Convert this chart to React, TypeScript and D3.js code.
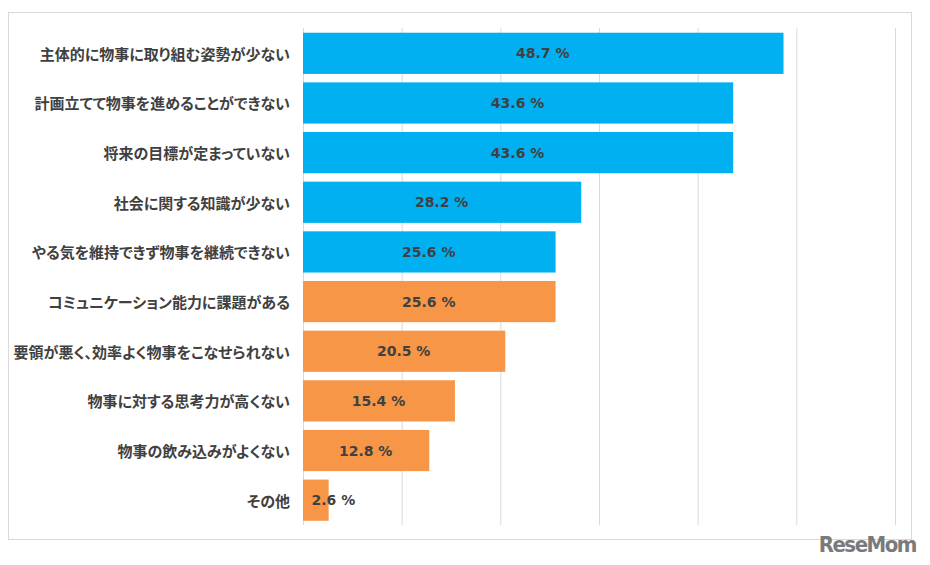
import React from "react";
import * as d3 from "d3";

const categories = [
  "主体的に物事に取り組む姿勢が少ない",
  "計画立てて物事を進めることができない",
  "将来の目標が定まっていない",
  "社会に関する知識が少ない",
  "やる気を維持できず物事を継続できない",
  "コミュニケーション能力に課題がある",
  "要領が悪く、効率よく物事をこなせられない",
  "物事に対する思考力が高くない",
  "物事の飲み込みがよくない",
  "その他",
];
const values = [48.7, 43.6, 43.6, 28.2, 25.6, 25.6, 20.5, 15.4, 12.8, 2.6];
const groups = ["top", "top", "top", "top", "top", "low", "low", "low", "low", "low"];
const xTicks = [0, 10, 20, 30, 40, 50, 60];

const W = 930;
const H = 565;
const colors: Record<string, string> = { top: "#00B0F0", low: "#F79646" };

export default function App() {
  const x = d3.scaleLinear().domain([0, 60]).range([303.5, 895.5]);
  const y = d3
    .scaleBand<string>()
    .domain(categories)
    .range([28.5, 525])
    .paddingInner(0.17)
    .paddingOuter(0.085);

  return (
    <svg
      width={W}
      height={H}
      style={{ position: "absolute", left: 0, top: 0, background: "#fff" }}
    >
      <rect x={8.5} y={12.5} width={903} height={527} fill="#fff" stroke="#d9d9d9" strokeWidth={1} />
      {xTicks.map((t) => (
        <line key={t} x1={x(t)} x2={x(t)} y1={28} y2={525} stroke="#d9d9d9" strokeWidth={1} />
      ))}
      {categories.map((c, i) => {
        const y0 = y(c)!;
        const bw = y.bandwidth();
        const w = x(values[i]) - x(0);
        const label = values[i].toFixed(1) + " %";
        const approxTextW = 54;
        const lx = w > approxTextW + 6 ? x(0) + w / 2 - 1 : x(0) + 8;
        const anchor = w > approxTextW + 6 ? "middle" : "start";
        return (
          <g key={c}>
            <rect x={x(0) - 0.5} y={y0} width={w} height={bw} fill={colors[groups[i]]} />
            <text
              x={290}
              y={y0 + bw / 2}
              textAnchor="end"
              dominantBaseline="central"
              fontFamily="'Noto Sans CJK JP', 'Noto Sans', sans-serif"
              fontWeight={700}
              fontSize={15}
              fill="#404040"
              style={{ fontFeatureSettings: "'palt' 1" }}
            >
              {c}
            </text>
            <text
              x={lx}
              y={y0 + bw / 2}
              textAnchor={anchor}
              dominantBaseline="central"
              fontFamily="'DejaVu Sans', Verdana, sans-serif"
              fontWeight={700}
              fontSize={14}
              fill="#404040"
            >
              {label}
            </text>
          </g>
        );
      })}
      <text
        x={916}
        y={552}
        textAnchor="end"
        fontFamily="'DejaVu Sans Condensed', 'DejaVu Sans', sans-serif"
        fontStretch="condensed"
        fontWeight={700}
        fontSize={22}
        fill="#7a7a7a"
        letterSpacing={-1.5}
      >
        ReseMom
      </text>
    </svg>
  );
}
